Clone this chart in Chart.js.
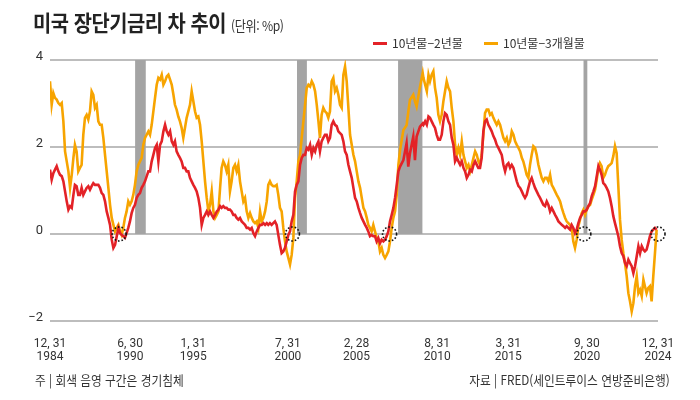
<!DOCTYPE html>
<html lang="ko">
<head>
<meta charset="utf-8">
<script src="https://cdn.jsdelivr.net/npm/chart.js@4.4.1/dist/chart.umd.min.js"></script>
<style>
  body { margin: 0; background: #fff; }
  #wrap { position: relative; width: 700px; height: 400px; overflow: hidden; font-family: 'Noto Sans CJK KR', sans-serif; color: #222; }
  #chart { position: absolute; left: 0; top: 0; }
  .title { position: absolute; left: 33px; top: 5px; font-size: 22px; font-weight: 700; white-space: nowrap; transform: scaleX(0.9); transform-origin: left top; letter-spacing: -0.5px; }
  .title span { font-size: 13.5px; font-weight: 400; color: #333; letter-spacing: -0.5px; }
  .legend { position: absolute; top: 34px; font-size: 12px; color: #333; white-space: nowrap; }
  .legend i { display: inline-block; width: 14px; height: 3px; vertical-align: middle; margin-right: 5px; margin-top: -2px; }
  .foot { position: absolute; top: 370px; font-size: 13px; color: #333; white-space: nowrap; transform: scaleX(0.9); }
</style>
</head>
<body>
<div id="wrap">
  <canvas id="chart" width="700" height="400"></canvas>
  <div class="title">미국 장단기금리 차 추이 <span>(단위: %p)</span></div>
  <div class="legend" style="left:373px"><i style="background:#e32227"></i>10년물−2년물</div>
  <div class="legend" style="left:484px"><i style="background:#f7a400"></i>10년물−3개월물</div>
  <div class="foot" style="left:35px; transform-origin:left top">주 | 회색 음영 구간은 경기침체</div>
  <div class="foot" style="right:30px; transform-origin:right top">자료 | FRED(세인트루이스 연방준비은행)</div>
</div>
<script>
// decimal years, shared by both series
const years = [
  1985.00,1985.11,1985.22,1985.33,1985.44,1985.55,1985.66,1985.77,1985.88,1985.99,
  1986.10,1986.21,1986.32,1986.43,1986.54,1986.64,1986.75,1986.86,1986.97,1987.08,
  1987.19,1987.30,1987.41,1987.52,1987.63,1987.74,1987.85,1987.96,1988.07,1988.18,
  1988.29,1988.40,1988.51,1988.62,1988.73,1988.84,1988.95,1989.06,1989.17,1989.28,
  1989.39,1989.50,1989.61,1989.71,1989.82,1989.93,1990.04,1990.15,1990.26,1990.37,
  1990.48,1990.59,1990.70,1990.81,1990.92,1991.03,1991.14,1991.25,1991.47,
  1991.58,1991.69,1991.80,1991.91,1992.02,1992.13,1992.24,1992.35,1992.46,1992.57,
  1992.68,1992.79,1992.90,1993.01,1993.12,1993.22,1993.33,1993.44,1993.55,1993.66,
  1993.77,1993.88,1993.99,1994.10,1994.21,1994.32,1994.43,1994.54,1994.65,1994.76,
  1994.87,1994.98,1995.09,1995.20,1995.31,1995.42,1995.53,1995.64,1995.75,1995.86,
  1995.97,1996.08,1996.19,1996.29,1996.40,1996.51,1996.62,1996.73,1996.84,1996.95,
  1997.06,1997.17,1997.28,1997.39,1997.50,1997.61,1997.72,1997.83,1997.94,1998.05,
  1998.16,1998.27,1998.38,1998.49,1998.60,1998.71,1998.82,1998.93,1999.04,1999.15,
  1999.26,1999.36,1999.47,1999.58,1999.69,1999.80,1999.91,2000.02,2000.13,2000.24,
  2000.35,2000.46,2000.57,2000.68,2000.79,2000.90,2001.01,
  2001.12,2001.23,2001.34,2001.45,2001.56,2001.67,2001.78,2001.89,2002.00,2002.11,
  2002.22,2002.33,2002.44,2002.55,2002.66,2002.76,2002.87,2002.98,2003.09,2003.20,
  2003.31,2003.42,2003.53,2003.64,2003.75,2003.86,2003.97,2004.08,2004.19,2004.30,
  2004.41,2004.52,2004.63,2004.74,2004.85,2004.96,2005.07,2005.18,2005.29,2005.40,
  2005.51,2005.62,2005.73,2005.84,2005.94,2006.05,2006.16,2006.27,2006.38,2006.49,
  2006.60,2006.71,2006.82,2006.93,2007.04,2007.15,2007.26,2007.37,2007.48,2007.59,
  2007.70,2007.81,2007.92,
  2008.03,2008.25,2008.46,2008.57,2008.68,2008.90,2009.01,2009.12,2009.34,2009.52,
  2009.57,2009.68,2009.79,2009.90,2010.00,2010.11,2010.22,2010.33,2010.44,2010.55,
  2010.66,2010.77,2010.88,2010.99,2011.10,2011.21,2011.32,2011.43,2011.54,2011.65,
  2011.76,2011.87,2011.98,2012.09,2012.20,2012.31,2012.42,2012.53,2012.64,2012.75,
  2012.86,2012.97,2013.08,2013.18,2013.29,2013.40,2013.51,2013.62,2013.73,2013.84,
  2013.95,2014.06,2014.17,2014.28,2014.39,2014.50,2014.61,2014.72,2014.83,2014.94,
  2015.05,2015.16,2015.27,2015.38,2015.49,2015.60,2015.71,2015.82,2015.93,2016.04,
  2016.14,2016.25,2016.36,2016.47,2016.58,2016.69,2016.80,2016.91,2017.02,2017.13,
  2017.24,2017.35,2017.46,2017.57,2017.68,2017.79,2017.90,2018.01,2018.12,2018.23,
  2018.34,2018.45,2018.56,2018.67,2018.78,2018.89,2018.99,2019.10,2019.21,2019.32,
  2019.43,
  2019.54,2019.65,2019.76,2019.87,2019.98,2020.09,2020.20,2020.31,2020.42,2020.53,
  2020.64,2020.75,2020.86,2020.97,2021.08,2021.18,2021.29,2021.40,2021.51,2021.62,
  2021.73,2021.84,2021.95,2022.06,2022.17,2022.28,2022.39,2022.50,2022.61,2022.72,
  2022.83,2022.94,2023.05,2023.16,2023.27,2023.38,2023.49,2023.60,2023.71,2023.82,
  2023.93,2024.04,2024.14,2024.25,2024.36,2024.47,2024.58,2024.69,2024.80,2024.91
];

// 10Y - 2Y spread (%p)
const spread10y2y = [
  1.48,1.25,1.40,1.48,1.56,1.44,1.36,1.33,1.21,0.98,
  0.75,0.56,0.64,0.60,0.90,1.13,1.10,0.90,0.90,1.06,
  0.90,0.98,1.06,1.10,1.02,1.10,1.17,1.13,1.13,1.13,
  1.06,0.94,0.90,0.75,0.52,0.37,0.21,-0.13,-0.32,-0.25,
  -0.05,0.14,0.02,-0.02,-0.05,-0.09,0.02,0.14,0.29,0.48,
  0.60,0.67,0.83,0.90,0.94,1.06,1.13,1.21,1.44,
  1.44,1.67,1.82,1.98,2.05,1.67,2.05,2.13,2.36,2.51,
  2.36,2.28,2.36,2.13,2.05,2.13,1.90,1.82,1.75,1.67,
  1.52,1.52,1.44,1.44,1.29,1.21,1.13,1.06,0.98,0.83,
  0.60,0.21,0.37,0.44,0.52,0.44,0.52,0.44,0.37,0.44,
  0.52,0.56,0.64,0.60,0.64,0.60,0.60,0.56,0.56,0.52,
  0.44,0.44,0.37,0.33,0.37,0.29,0.25,0.21,0.14,0.14,
  0.10,0.14,0.02,-0.05,0.06,0.14,0.21,0.21,0.25,0.21,
  0.25,0.21,0.25,0.21,0.25,0.29,0.21,-0.02,-0.25,-0.44,
  -0.40,-0.32,-0.17,-0.02,0.06,0.29,0.44,
  0.98,1.13,1.21,1.59,1.75,1.82,1.82,1.98,1.94,2.05,
  1.82,1.98,1.90,2.05,2.13,1.90,2.13,2.21,2.28,2.28,
  2.13,2.21,2.51,2.59,2.51,2.48,2.36,2.32,2.28,2.13,
  1.90,1.82,1.59,1.44,1.29,1.06,0.83,0.75,0.60,0.48,
  0.37,0.29,0.21,0.14,0.06,-0.05,-0.02,-0.05,-0.05,-0.17,
  -0.09,-0.21,-0.13,-0.17,-0.13,-0.05,0.06,0.29,0.44,0.60,
  0.83,1.13,1.44,
  1.55,1.70,2.09,1.55,1.85,2.24,1.70,2.24,2.47,2.54,
  2.51,2.59,2.51,2.70,2.67,2.59,2.51,2.44,2.28,2.17,
  2.17,2.28,2.59,2.78,2.74,2.59,2.51,2.21,2.05,1.67,
  1.75,1.67,1.59,1.67,1.52,1.44,1.29,1.36,1.48,1.44,
  1.59,1.67,1.59,1.52,1.52,1.75,2.36,2.59,2.63,2.51,
  2.44,2.36,2.25,2.17,2.05,1.98,1.90,1.82,1.59,1.44,
  1.59,1.63,1.52,1.59,1.52,1.36,1.21,1.10,1.06,0.98,
  0.90,0.83,0.90,1.06,1.21,1.29,1.17,1.06,0.98,0.90,
  0.83,0.75,0.67,0.64,0.75,0.67,0.52,0.60,0.52,0.44,
  0.37,0.29,0.25,0.21,0.18,0.14,0.18,0.14,0.10,0.21,
  0.14,
  0.02,0.10,0.25,0.37,0.44,0.52,0.52,0.56,0.64,0.71,
  0.87,0.98,1.10,1.33,1.56,1.48,1.36,1.17,1.13,1.06,
  0.98,0.83,0.64,0.41,0.25,0.10,-0.05,-0.28,-0.44,-0.51,
  -0.67,-0.74,-0.59,-0.67,-0.74,-0.90,-0.74,-0.51,-0.28,-0.44,
  -0.28,-0.36,-0.40,-0.36,-0.21,-0.05,0.06,0.10,0.14,0.10
];

// 10Y - 3M spread (%p)
const spread10y3m = [
  3.51,2.97,3.24,3.13,3.09,3.01,2.97,3.01,2.59,1.90,
  1.67,1.44,1.06,1.36,1.75,2.05,1.90,1.44,1.52,1.59,
  2.28,2.67,2.74,2.63,2.82,3.28,3.20,2.90,2.97,2.59,
  2.51,2.51,2.21,1.82,1.44,1.06,0.67,0.37,0.21,0.06,
  0.14,0.21,0.06,-0.02,0.14,0.37,0.52,0.75,0.67,0.75,
  0.90,1.13,1.44,1.59,1.67,1.75,2.05,2.21,2.36,
  2.28,2.51,2.82,3.13,3.43,3.59,3.55,3.66,3.43,3.51,
  3.62,3.66,3.55,3.43,3.20,2.97,2.86,2.70,2.59,2.44,
  2.21,2.44,2.67,2.82,2.97,3.28,3.05,2.82,2.67,2.70,
  2.51,2.13,1.67,1.21,0.83,0.52,0.67,0.98,0.52,0.37,
  0.44,0.52,1.06,1.52,1.67,1.59,1.44,1.59,0.98,1.21,
  1.52,1.59,1.44,1.59,1.21,0.98,0.75,0.83,0.52,0.37,
  0.48,0.37,0.29,0.25,0.29,0.14,0.52,0.29,0.37,0.52,
  0.75,1.13,1.21,1.13,1.10,1.10,1.13,0.90,0.60,0.52,
  0.14,-0.17,-0.40,-0.55,-0.70,-0.48,-0.09,
  0.83,1.21,1.67,1.82,2.21,2.59,2.97,3.36,3.43,3.39,
  3.51,3.43,3.28,2.97,2.59,2.21,2.74,2.90,2.82,2.78,
  2.67,2.82,3.51,3.59,3.28,3.36,3.20,2.97,2.90,3.66,
  3.85,3.51,2.90,2.28,2.05,1.82,1.67,1.44,1.21,1.06,
  0.83,0.60,0.52,0.37,0.21,0.14,0.06,0.21,0.06,-0.09,
  -0.17,-0.40,-0.32,-0.48,-0.55,-0.48,-0.40,-0.17,0.14,0.37,
  0.52,0.90,1.59,
  1.93,2.39,2.50,2.80,3.08,3.20,3.05,2.93,3.38,3.70,
  3.59,3.43,3.28,3.66,3.51,3.66,3.74,3.36,3.13,2.74,
  2.59,2.74,3.05,3.28,3.51,3.36,3.28,2.90,2.59,2.05,
  1.82,1.98,1.82,2.13,1.82,1.67,1.52,1.59,1.44,1.59,
  1.75,1.90,1.82,1.67,1.59,1.82,2.28,2.78,2.86,2.86,
  2.74,2.78,2.67,2.59,2.51,2.59,2.51,2.36,2.21,2.13,
  2.21,2.05,2.13,2.36,2.28,2.13,2.05,1.98,1.90,1.75,
  1.67,1.52,1.36,1.29,1.59,1.82,2.02,1.98,1.82,1.59,
  1.44,1.29,1.21,1.29,1.29,1.21,1.36,1.13,1.06,0.98,
  0.90,0.83,0.75,0.60,0.48,0.37,0.29,0.25,0.21,0.14,
  -0.17,
  -0.32,-0.13,0.18,0.33,0.48,0.56,0.44,0.56,0.64,0.67,
  0.79,0.90,1.02,1.25,1.52,1.63,1.56,1.29,1.36,1.48,
  1.56,1.59,1.63,1.79,2.02,1.86,1.10,0.33,-0.13,-0.44,
  -0.67,-0.97,-1.36,-1.55,-1.78,-1.59,-1.20,-0.97,-1.36,-1.28,
  -1.43,-1.05,-1.20,-1.36,-1.24,-1.20,-1.55,-0.97,-0.44,0.10
];

// recessions (grey bands) and the marked zero crossings
const recessionStart = [1990.6, 2001.25, 2007.9, 2020.1];
const recessionEnd = [1991.3, 2001.9, 2009.5, 2020.35];
const crossYears = [1989.55, 2000.95, 2007.34, 2020.12, 2025.0];

// axis ticks
const yTicks = [-2, 0, 2, 4];
const tickYears = [1985, 1990.27, 1994.42, 2000.65, 2005.16, 2010.47, 2015.15, 2020.32, 2025];
const tickLabels = [
  ['12, 31', '1984'], ['6, 30', '1990'], ['1, 31', '1995'], ['7, 31', '2000'], ['2, 28', '2005'],
  ['8, 31', '2010'], ['3, 31', '2015'], ['9, 30', '2020'], ['12, 31', '2024']
];

const toPoints = vals => years.map((yr, i) => ({ x: yr, y: vals[i] }));

// grey recession shading, from 0 up to 4
const recessionBands = {
  id: 'recessionBands',
  beforeDatasetsDraw(chart) {
    const { ctx, scales: { x, y } } = chart;
    const top = y.getPixelForValue(4);
    const bottom = y.getPixelForValue(0);
    ctx.save();
    ctx.fillStyle = '#a4a4a4';
    recessionStart.forEach((s, i) => {
      const left = x.getPixelForValue(s);
      const right = x.getPixelForValue(recessionEnd[i]);
      ctx.fillRect(left, top, right - left, bottom - top);
    });
    ctx.restore();
  }
};

// dotted rings where the curve goes back through zero
const crossRings = {
  id: 'crossRings',
  afterDatasetsDraw(chart) {
    const { ctx, scales: { x, y } } = chart;
    ctx.save();
    ctx.strokeStyle = '#111';
    ctx.lineWidth = 1.6;
    ctx.setLineDash([1.6, 1.9]);
    crossYears.forEach(v => {
      ctx.beginPath();
      ctx.arc(x.getPixelForValue(v), y.getPixelForValue(0), 7, 0, Math.PI * 2);
      ctx.stroke();
    });
    ctx.restore();
  }
};

new Chart(document.getElementById('chart'), {
  type: 'line',
  data: {
    datasets: [
      {
        label: '10년물−2년물',
        data: toPoints(spread10y2y),
        borderColor: '#e32227',
        borderWidth: 2.6,
        pointRadius: 0,
        tension: 0
      },
      {
        label: '10년물−3개월물',
        data: toPoints(spread10y3m),
        borderColor: '#f7a400',
        borderWidth: 2.6,
        pointRadius: 0,
        tension: 0
      }
    ]
  },
  options: {
    responsive: false,
    animation: false,
    layout: { padding: { top: 60, right: 42, bottom: 0, left: 0 } },
    plugins: { legend: { display: false }, tooltip: { enabled: false } },
    scales: {
      x: {
        type: 'linear',
        min: 1985,
        max: 2025,
        grid: { display: false },
        border: { display: false },
        afterBuildTicks: axis => { axis.ticks = tickYears.map(v => ({ value: v })); },
        afterFit: axis => { axis.height = 79; },
        ticks: {
          autoSkip: false,
          maxRotation: 0,
          padding: 8,
          color: '#333',
          font: { family: "'Liberation Sans Narrow', 'Roboto', sans-serif", size: 12, lineHeight: 1.1 },
          callback: (v, i) => tickLabels[i]
        }
      },
      y: {
        min: -2,
        max: 4,
        grid: { color: '#bdbdbd', lineWidth: 2, drawTicks: false },
        border: { display: false },
        afterBuildTicks: axis => { axis.ticks = yTicks.map(v => ({ value: v })); },
        afterFit: axis => { axis.width = 50; },
        ticks: {
          padding: 7,
          labelOffset: -3,
          color: '#333',
          font: { family: "'Liberation Sans Narrow', 'Roboto', sans-serif", size: 13 },
          callback: v => (v < 0 ? '−' + Math.abs(v) : String(v))
        }
      }
    }
  },
  plugins: [recessionBands, crossRings]
});
</script>
</body>
</html>
